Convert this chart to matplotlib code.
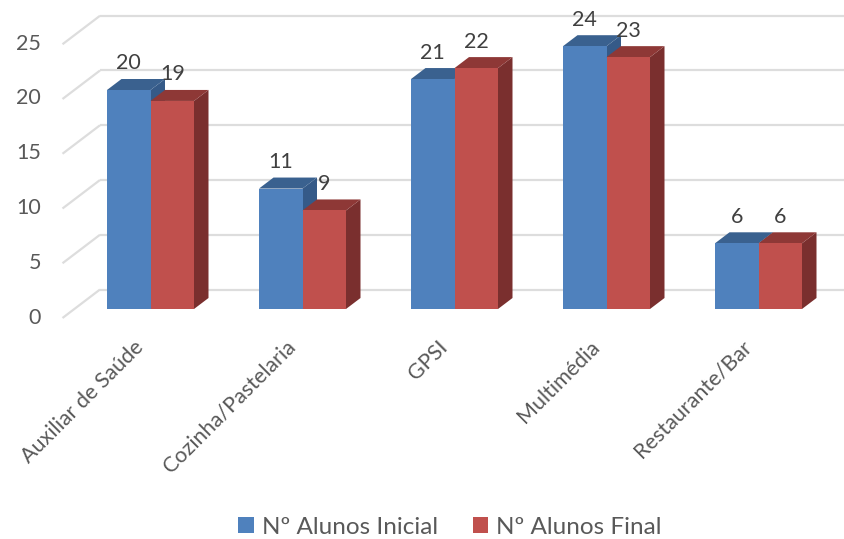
import matplotlib
matplotlib.use('Agg')
import matplotlib.pyplot as plt
import matplotlib.transforms as mtrans
from matplotlib.patches import Polygon
import numpy as np

plt.rcParams['font.family'] = ['Lato', 'DejaVu Sans']

categories = ['Auxiliar de Saúde', 'Cozinha/Pastelaria', 'GPSI', 'Multimédia', 'Restaurante/Bar']
inicial = [20, 11, 21, 24, 6]
final = [19, 9, 22, 23, 6]
yticks = [0, 5, 10, 15, 20, 25]

W, H = 844, 539
px_unit = 10.95   # pixels per value unit
px_cat = 152.0    # pixels per category
left_px, right_px = 62.5, 844
base_px = 309

fig = plt.figure(figsize=(W / 100, H / 100), dpi=100)
top_px = base_px - 25 * px_unit
ax = fig.add_axes([left_px / W, 1 - base_px / H, (right_px - left_px) / W, (base_px - top_px) / H])
ax.set_xlim((left_px - 150.5) / px_cat, (right_px - 150.5) / px_cat)
ax.set_ylim(0, 25)

bar_w = 43.5 / px_cat
dx = 14.5 / px_cat
dy = 11 / px_unit

# floor/wall lines
wall_dx = (100 - left_px) / px_cat
back_x = ax.get_xlim()[0] + wall_dx
front_dy = -9 / px_unit
back_dy = 19.5 / px_unit
grid_c = '#DDDDDD'
for v in yticks:
    ax.plot([ax.get_xlim()[0], back_x], [v + front_dy, v + back_dy], color=grid_c, lw=1.6,
            clip_on=False, zorder=1, solid_capstyle='butt')
    ax.plot([back_x, ax.get_xlim()[1]], [v + back_dy, v + back_dy], color=grid_c, lw=1.6,
            clip_on=False, zorder=1, solid_capstyle='butt')


def bar3d(xs, vals, front, top, side, label, z):
    for x, v in zip(xs, vals):
        x0, x1 = x, x + bar_w
        ax.add_patch(Polygon([[x1, 0], [x1 + dx, dy], [x1 + dx, v + dy], [x1, v]],
                             fc=side, ec='none', clip_on=False, zorder=z))
        ax.add_patch(Polygon([[x0, v], [x0 + dx, v + dy], [x1 + dx, v + dy], [x1, v]],
                             fc=top, ec='none', clip_on=False, zorder=z))
    ax.bar(xs, vals, bar_w, align='edge', color=front, label=label, clip_on=False, zorder=z + 0.1)
    for x, v in zip(xs, vals):
        ax.annotate(str(v), (x + bar_w / 2, v), xytext=(0, 26.5 * 0.72), textcoords='offset points',
                    ha='center', va='center', fontsize=15.5, color='#404040', zorder=10,
                    annotation_clip=False)


x = np.arange(len(categories))
bar3d(x - bar_w, inicial, '#4F81BD', '#3A618F', '#355A88', 'Nº Alunos Inicial', 3)
bar3d(x, final, '#C0504D', '#8E3836', '#7A2F2E', 'Nº Alunos Final', 4)

for s in ax.spines.values():
    s.set_visible(False)
ax.patch.set_visible(False)

ax.set_yticks(yticks)
ax.tick_params(axis='y', length=0, pad=(left_px - 41) * 0.72, labelsize=15.5, labelcolor='#595959')
shift = mtrans.ScaledTranslation(0, -6.5 / 100, fig.dpi_scale_trans)
for lab in ax.get_yticklabels():
    lab.set_transform(lab.get_transform() + shift)

ax.set_xticks(x)
ax.set_xticklabels(categories, rotation=45, ha='right', va='top', rotation_mode='anchor')
ax.tick_params(axis='x', length=0, pad=20, labelsize=15.5, labelcolor='#595959')
shift_x = mtrans.ScaledTranslation(-17 / 100, 0, fig.dpi_scale_trans)
for lab in ax.get_xticklabels():
    lab.set_transform(lab.get_transform() + shift_x)

ax.legend(loc='center', bbox_to_anchor=(450 / W, 1 - 527 / H), bbox_transform=fig.transFigure,
          ncol=2, frameon=False, fontsize=17.5, labelcolor='#595959', handlelength=0.62,
          handleheight=0.62, handletextpad=0.33, columnspacing=1.45)

fig.savefig('out.png', dpi=100)
